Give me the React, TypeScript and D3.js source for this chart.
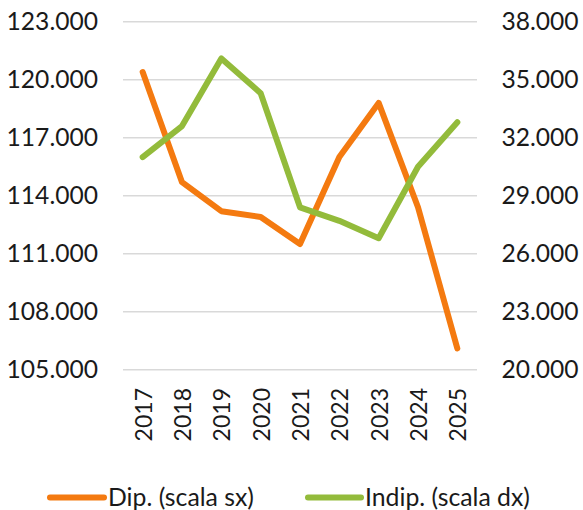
import React from "react";
import * as d3 from "d3";

const years = ["2017", "2018", "2019", "2020", "2021", "2022", "2023", "2024", "2025"];
const dipValues = [120.4, 114.7, 113.2, 112.9, 111.5, 116.0, 118.8, 113.4, 106.1];
const indipValues = [31.0, 32.6, 36.1, 34.3, 28.4, 27.7, 26.8, 30.5, 32.8];
const leftTicks = [105, 108, 111, 114, 117, 120, 123];
const rightTicks = [20, 23, 26, 29, 32, 35, 38];
const legendLabels = ["Dip. (scala sx)", "Indip. (scala dx)"];

const W = 583;
const H = 510;
const plot = { left: 123, right: 477, top: 21.7, bottom: 369.7 };
const ORANGE = "#F47A10";
const GREEN = "#93BB3B";
const FONT = "Lato, 'Open Sans', sans-serif";

export default function App() {
  const x = d3.scaleBand<string>().domain(years).range([plot.left, plot.right]);
  const yL = d3.scaleLinear().domain([105, 123]).range([plot.bottom, plot.top]);
  const yR = d3.scaleLinear().domain([20, 38]).range([plot.bottom, plot.top]);
  const cx = (d: string) => (x(d) as number) + x.bandwidth() / 2;

  const lineL = d3.line<number>().x((_, i) => cx(years[i])).y((v) => yL(v));
  const lineR = d3.line<number>().x((_, i) => cx(years[i])).y((v) => yR(v));
  const label = (v: number) => `${v}.000`;

  return (
    <svg width={W} height={H} style={{ position: "absolute", left: 0, top: 0 }} fontFamily={FONT}>
      <rect width={W} height={H} fill="#fff" />
      {leftTicks.map((t) => (
        <line key={t} x1={plot.left} x2={plot.right} y1={yL(t)} y2={yL(t)} stroke="#d9d9d9" strokeWidth={1.5} />
      ))}
      {leftTicks.map((t) => (
        <text key={t} x={98} y={yL(t)} dy="0.35em" textAnchor="end" fontSize={24.6} fill="#1a1a1a">
          {label(t)}
        </text>
      ))}
      {rightTicks.map((t) => (
        <text key={t} x={501.5} y={yR(t)} dy="0.35em" textAnchor="start" fontSize={24.6} fill="#1a1a1a">
          {label(t)}
        </text>
      ))}
      {years.map((yv) => (
        <text
          key={yv}
          transform={`translate(${cx(yv) + 1},388) rotate(-90)`}
          dy="0.35em"
          textAnchor="end"
          fontSize={23}
          fill="#1a1a1a"
        >
          {yv}
        </text>
      ))}
      <path d={lineL(dipValues) as string} fill="none" stroke={ORANGE} strokeWidth={6} strokeLinejoin="round" strokeLinecap="round" />
      <path d={lineR(indipValues) as string} fill="none" stroke={GREEN} strokeWidth={6} strokeLinejoin="round" strokeLinecap="round" />
      <g>
        <line x1={50} x2={104} y1={497.5} y2={497.5} stroke={ORANGE} strokeWidth={6} strokeLinecap="round" />
        <text x={108} y={497.5} dy="0.35em" fontSize={24.8} fill="#1a1a1a">{legendLabels[0]}</text>
        <line x1={308} x2={361} y1={497.5} y2={497.5} stroke={GREEN} strokeWidth={6} strokeLinecap="round" />
        <text x={365} y={497.5} dy="0.35em" fontSize={24.8} fill="#1a1a1a">{legendLabels[1]}</text>
      </g>
    </svg>
  );
}
